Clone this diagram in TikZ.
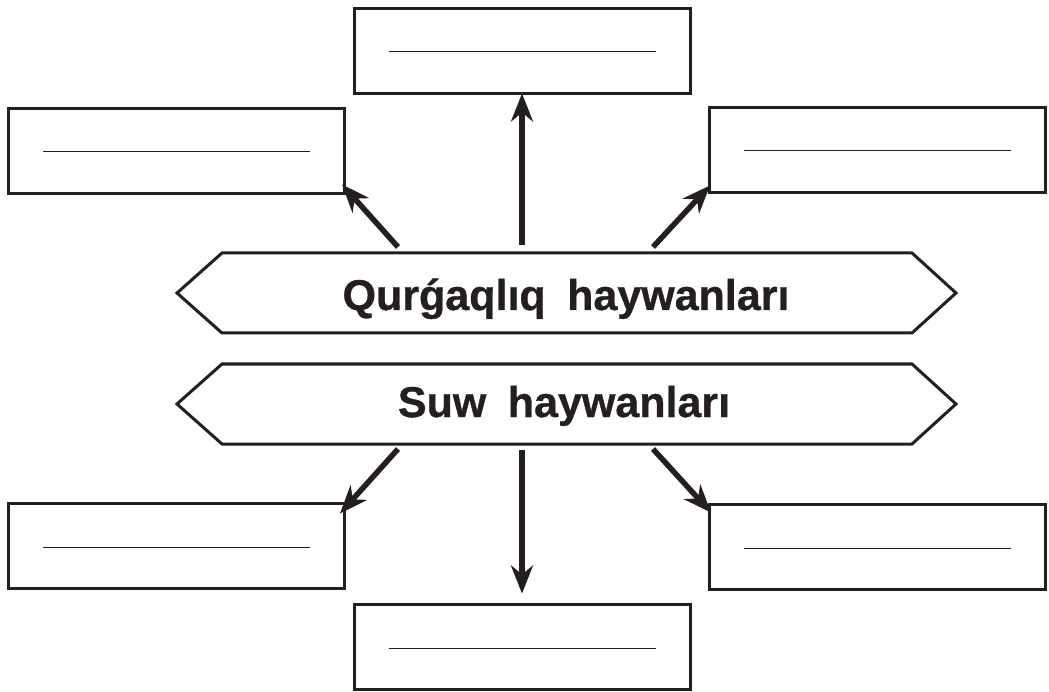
\documentclass[tikz,border=0pt]{standalone}
\usepackage{fontspec}
\setmainfont{Liberation Sans}
\newfontfamily\bannerfont[FakeBold=0.8]{Liberation Sans Bold}
\usetikzlibrary{arrows.meta}
\definecolor{ink}{HTML}{231F20}
\tikzset{
  blank/.style={draw=ink, line width=3pt, rectangle, minimum width=336pt, minimum height=85pt, outer sep=0pt, inner sep=0pt},
  uline/.style={draw=ink, line width=1pt},
  hexbase/.style={rectangle, minimum width=690pt, minimum height=80pt, outer sep=0pt, inner sep=0pt},
  hexline/.style={draw=ink, line width=3pt, line join=miter},
  bannertext/.style={text=ink, font=\fontsize{43pt}{48pt}\bannerfont, anchor=base, inner sep=0pt},
  pointer/.style={draw=ink, line width=5.5pt, -{Stealth[length=28pt, width=22pt, inset=9pt]}}
}
\begin{document}
\begin{tikzpicture}[x=1pt, y=-1pt]
\useasboundingbox (0,0) rectangle (1049,692);
% blank boxes
\node[blank] (tb) at (522,51) {};
\node[blank] (tl) at (176,151) {};
\node[blank] (tr) at (877,150) {};
\node[blank] (bl) at (176,546) {};
\node[blank] (br) at (877,547) {};
\node[blank] (bb) at (522,647) {};
% write-in lines
\foreach \b in {tb,tl,tr,bl,br,bb}{
  \draw[uline] ([xshift=-133pt,yshift=-1pt]\b.center) -- ([xshift=134pt,yshift=-1pt]\b.center);
}
% banners
\node[hexbase] (h1) at (567,293) {};
\node[hexbase] (h2) at (567,404) {};
\draw[hexline] (h1.north west) -- (h1.north east) -- ([xshift=44pt]h1.east) -- (h1.south east) -- (h1.south west) -- ([xshift=-45pt]h1.west) -- cycle;
\draw[hexline] (h2.north west) -- (h2.north east) -- ([xshift=44pt]h2.east) -- (h2.south east) -- (h2.south west) -- ([xshift=-45pt]h2.west) -- cycle;
\node[bannertext] (t1) at (566,310) {Qurǵaqlıq\hspace{0.5em}haywanları};
\node[bannertext] (t2) at (564,417) {Suw\hspace{0.5em}haywanları};
% connector start points
\coordinate (s1) at ([xshift=-169pt,yshift=6pt]h1.north);
\coordinate (s2) at ([xshift=-45pt,yshift=8pt]h1.north);
\coordinate (s3) at ([xshift=86pt,yshift=6pt]h1.north);
\coordinate (u1) at ([xshift=-169pt,yshift=-5pt]h2.south);
\coordinate (u2) at ([xshift=-45pt,yshift=-6pt]h2.south);
\coordinate (u3) at ([xshift=86pt,yshift=-5pt]h2.south);
% connectors
\draw[pointer] (s1) -- ([xshift=-2pt,yshift=9pt]tl.south east);
\draw[pointer] (s2) -- (tb.south);
\draw[pointer] (s3) -- ([xshift=1pt,yshift=7pt]tr.south west);
\draw[pointer] (u1) -- ([xshift=-4pt,yshift=-10pt]bl.north east);
\draw[pointer] (u2) -- ([yshift=11pt]bb.north);
\draw[pointer] (u3) -- ([xshift=2pt,yshift=-8pt]br.north west);
\end{tikzpicture}
\end{document}
